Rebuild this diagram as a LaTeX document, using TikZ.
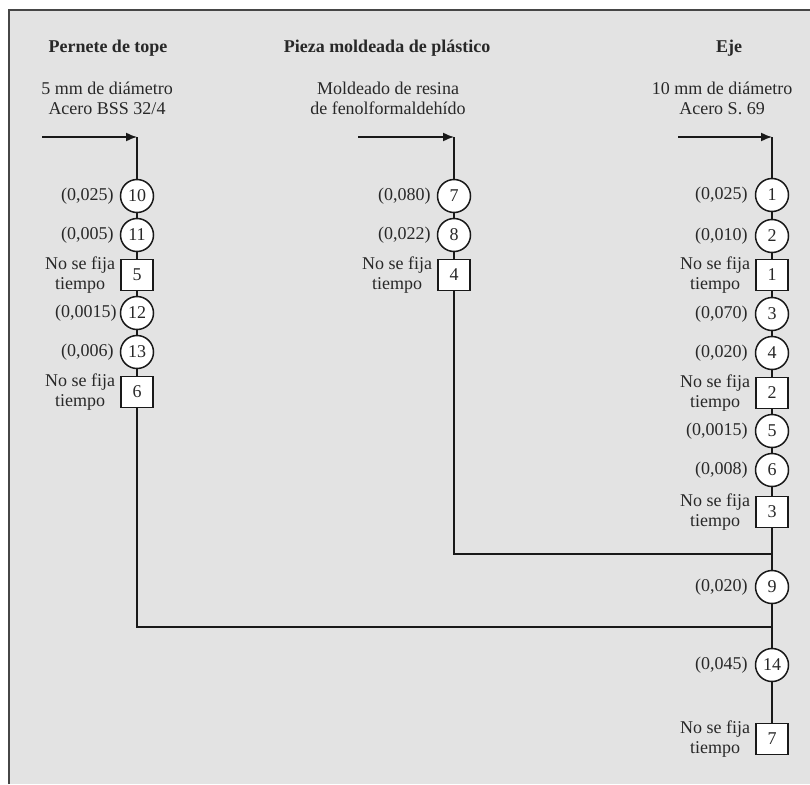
\documentclass[tikz,border=0pt]{standalone}
\usepackage{fontspec}
\setmainfont{Liberation Serif}
\usetikzlibrary{arrows.meta}
\definecolor{bg}{RGB}{227,227,227}
\definecolor{ink}{RGB}{25,25,25}
\definecolor{txtc}{RGB}{40,40,40}
\definecolor{frame}{RGB}{70,70,70}
\begin{document}
\begin{tikzpicture}[x=1pt,y=-1pt,
  every node/.style={font=\fontsize{18}{20}\selectfont, text=txtc},
  circ/.style={circle, draw=ink, line width=1.5pt, fill=white, minimum size=33pt, inner sep=0pt},
  sqbox/.style={rectangle, draw=ink, line width=1.5pt, fill=white, minimum width=32pt, minimum height=31pt, inner sep=0pt},
  lbl/.style={anchor=east, inner sep=0pt},
  nslbl/.style={anchor=east, inner sep=0pt, align=center},
  ttl/.style={font=\fontsize{18}{20}\selectfont\bfseries, inner sep=0pt},
  sub/.style={align=center, inner sep=0pt},
  conn/.style={draw=ink, line width=1.5pt},
  arr/.style={conn, -{Latex[length=11pt,width=9pt]}},
]
\useasboundingbox (0,0) rectangle (810,784);
\fill[white] (0,0) rectangle (810,784);
\fill[bg] (9,10) rectangle (810,784);
\draw[frame, line width=2pt] (9,784) -- (9,10) -- (810,10);

% titles
\node[ttl] (t1) at (108,48) {Pernete de tope};
\node[ttl] (t2) at (387,48) {Pieza moldeada de plástico};
\node[ttl] (t3) at (729,48) {Eje};
\node[sub] (s1) at (107,98) {5 mm de diámetro\\Acero BSS 32/4};
\node[sub] (s2) at (388,98) {Moldeado de resina\\de fenolformaldehído};
\node[sub] (s3) at (722,98) {10 mm de diámetro\\Acero S. 69};

% arrow coordinates
\coordinate (aL) at (42,137);  \coordinate (cL) at (137,137);
\coordinate (aM) at (358,137); \coordinate (cM) at (454,137);
\coordinate (aR) at (678,137); \coordinate (cR) at (772,137);
\coordinate (jL) at (137,627); \coordinate (jLR) at (772,627);
\coordinate (jM) at (454,554); \coordinate (jMR) at (772,554);

% left column
\node[circ] (c10) at (137,196) {10};
\node[circ] (c11) at (137,235) {11};
\node[sqbox] (b5) at (137,275) {5};
\node[circ] (c12) at (137,313) {12};
\node[circ] (c13) at (137,352) {13};
\node[sqbox] (b6) at (137,392) {6};

% middle column
\node[circ] (c7) at (454,196) {7};
\node[circ] (c8) at (454,235) {8};
\node[sqbox] (b4) at (454,275) {4};

% right column
\node[circ] (c1) at (772,195) {1};
\node[circ] (c2) at (772,236) {2};
\node[sqbox] (b1) at (772,275) {1};
\node[circ] (c3) at (772,314) {3};
\node[circ] (c4) at (772,353) {4};
\node[sqbox] (b2) at (772,393) {2};
\node[circ] (c5) at (772,431) {5};
\node[circ] (c6) at (772,470) {6};
\node[sqbox] (b3) at (772,512) {3};
\node[circ] (c9) at (772,587) {9};
\node[circ] (c14) at (772,665) {14};
\node[sqbox] (b7) at (772,739) {7};

% connectors
\draw[arr] (aL) -- (cL);
\draw[arr] (aM) -- (cM);
\draw[arr] (aR) -- (cR);
\draw[conn] (cL) -- (c10) (c10) -- (c11) (c11) -- (b5) (b5) -- (c12) (c12) -- (c13) (c13) -- (b6) (b6) -- (jL) -- (jLR);
\draw[conn] (cM) -- (c7) (c7) -- (c8) (c8) -- (b4) (b4) -- (jM) -- (jMR);
\draw[conn] (cR) -- (c1) (c1) -- (c2) (c2) -- (b1) (b1) -- (c3) (c3) -- (c4) (c4) -- (b2) (b2) -- (c5) (c5) -- (c6) (c6) -- (b3) (b3) -- (c9) (c9) -- (c14) (c14) -- (b7);

% labels
\node[lbl] (l10) at ([xshift=-6pt]c10.west) {(0,025)};
\node[lbl] (l11) at ([xshift=-6pt]c11.west) {(0,005)};
\node[nslbl] (n5) at ([xshift=-5pt]b5.west) {No se fija\\tiempo};
\node[lbl] (l12) at ([xshift=-3pt]c12.west) {(0,0015)};
\node[lbl] (l13) at ([xshift=-6pt]c13.west) {(0,006)};
\node[nslbl] (n6) at ([xshift=-5pt]b6.west) {No se fija\\tiempo};

\node[lbl] (l7) at ([xshift=-6pt]c7.west) {(0,080)};
\node[lbl] (l8) at ([xshift=-6pt]c8.west) {(0,022)};
\node[nslbl] (n4) at ([xshift=-5pt]b4.west) {No se fija\\tiempo};

\node[lbl] (l1) at ([xshift=-7pt]c1.west) {(0,025)};
\node[lbl] (l2) at ([xshift=-7pt]c2.west) {(0,010)};
\node[nslbl] (n1) at ([xshift=-5pt]b1.west) {No se fija\\tiempo};
\node[lbl] (l3) at ([xshift=-7pt]c3.west) {(0,070)};
\node[lbl] (l4) at ([xshift=-7pt]c4.west) {(0,020)};
\node[nslbl] (n2) at ([xshift=-5pt]b2.west) {No se fija\\tiempo};
\node[lbl] (l5) at ([xshift=-7pt]c5.west) {(0,0015)};
\node[lbl] (l6) at ([xshift=-7pt]c6.west) {(0,008)};
\node[nslbl] (n3) at ([xshift=-5pt]b3.west) {No se fija\\tiempo};
\node[lbl] (l9) at ([xshift=-7pt]c9.west) {(0,020)};
\node[lbl] (l14) at ([xshift=-7pt]c14.west) {(0,045)};
\node[nslbl] (n7) at ([xshift=-5pt]b7.west) {No se fija\\tiempo};
\end{tikzpicture}
\end{document}
